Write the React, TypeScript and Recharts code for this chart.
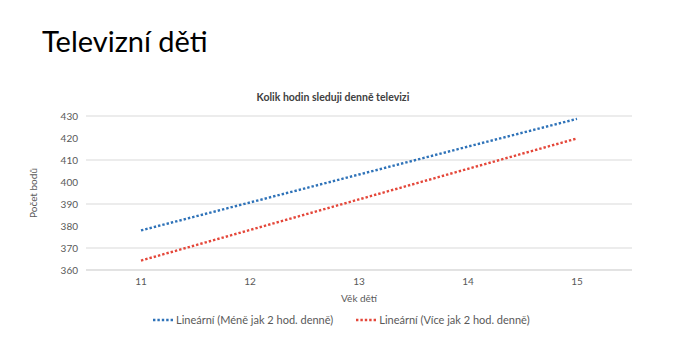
import React from 'react';
import { LineChart, Line, XAxis, YAxis, CartesianGrid } from 'recharts';

const ages = ['11', '12', '13', '14', '15'];
const lessThan2 = [378, 390.7, 403.4, 416.1, 428.7];
const moreThan2 = [364.3, 378.2, 392.1, 406.0, 419.8];
const yTicks = [360, 370, 380, 390, 400, 410, 420, 430];

const data = ages.map((age, i) => ({ age, less: lessThan2[i], more: moreThan2[i] }));

const FONT = 'Lato, "Open Sans", sans-serif';
const BLUE = '#2E72B8';
const RED = '#E4473A';
const DASH = '2.4 2';

const legendItems = [
    { c: BLUE, t: 'Lineární (Méně jak 2 hod. denně)' },
    { c: RED, t: 'Lineární (Více jak 2 hod. denně)' },
];

export default function App() {
    return (
        <div style={{ position: 'absolute', left: 0, top: 0, width: 684, height: 340, background: '#fff', overflow: 'hidden' }}>
            <div style={{ position: 'absolute', left: 42, top: 23, fontFamily: FONT, fontSize: 29, color: '#000' }}>
                Televizní děti
            </div>
            <div style={{ position: 'absolute', left: 0, width: 666, top: 91, textAlign: 'center', fontFamily: FONT, fontSize: 10.5, fontWeight: 700, color: '#404040' }}>
                Kolik hodin sleduji denně televizi
            </div>
            <div style={{ position: 'absolute', left: 0, top: 0 }}>
                <LineChart width={684} height={340} data={data} margin={{ top: 116, right: 52, left: 16, bottom: 40 }}>
                    <CartesianGrid horizontal vertical={false} stroke="#D9D9D9" />
                    <XAxis
                        dataKey="age"
                        padding={{ left: 55, right: 55 }}
                        tickLine={false}
                        axisLine={{ stroke: '#D9D9D9' }}
                        tick={{ fill: '#595959', fontSize: 10, fontFamily: FONT }}
                        label={{ value: 'Věk dětí', position: 'insideBottom', offset: -2, fill: '#595959', fontSize: 10, fontFamily: FONT }}
                        height={30}
                    />
                    <YAxis
                        domain={[360, 430]}
                        ticks={yTicks}
                        tickLine={false}
                        axisLine={false}
                        width={70}
                        tick={{ fill: '#595959', fontSize: 10, fontFamily: FONT }}
                        label={{ value: 'Počet bodů', angle: -90, position: 'insideLeft', offset: 17, fill: '#595959', fontSize: 10, fontFamily: FONT, style: { textAnchor: 'middle' } }}
                    />
                    <Line dataKey="less" stroke={BLUE} strokeWidth={2.4} strokeDasharray={DASH} dot={false} isAnimationActive={false} />
                    <Line dataKey="more" stroke={RED} strokeWidth={2.4} strokeDasharray={DASH} dot={false} isAnimationActive={false} />
                </LineChart>
            </div>
            <div style={{ position: 'absolute', left: 152, top: 313, display: 'flex', gap: 22, fontFamily: FONT, fontSize: 11, color: '#595959' }}>
                {legendItems.map((it) => (
                    <div key={it.t} style={{ display: 'flex', alignItems: 'center' }}>
                        <svg width={24} height={6}>
                            <line x1={1} y1={3} x2={23} y2={3} stroke={it.c} strokeWidth={2.4} strokeDasharray={DASH} />
                        </svg>
                        <span>{it.t}</span>
                    </div>
                ))}
            </div>
        </div>
    );
}
